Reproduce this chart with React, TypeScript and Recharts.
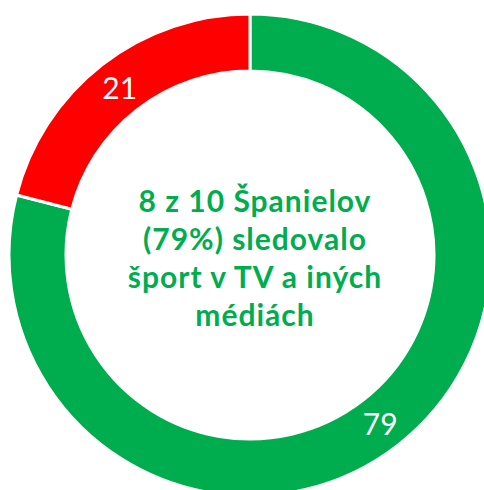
import { Cell, Pie, PieChart } from "recharts";

const categories = ["Sledovali šport", "Nesledovali"];
const values = [79, 21];
const colors = ["#00AD4E", "#FF0000"];
const centerLines = ["8 z 10 Španielov", "(79%) sledovalo", "šport v TV a iných", "médiách"];

const data = categories.map((name, i) => ({ name, value: values[i] }));

const RADIAN = Math.PI / 180;

function SliceLabel(props: any) {
  const { cx, cy, midAngle, innerRadius, outerRadius, value } = props;
  const r = (innerRadius + outerRadius) / 2;
  const x = cx + r * Math.cos(-midAngle * RADIAN);
  const y = cy + r * Math.sin(-midAngle * RADIAN);
  return (
    <text
      x={x}
      y={y}
      fill="#fff"
      textAnchor="middle"
      dominantBaseline="central"
      fontFamily="Lato"
      fontSize={30}
    >
      {value}
    </text>
  );
}

export default function App() {
  return (
    <div style={{ position: "absolute", left: 0, top: 0, width: 484, height: 490, background: "#fff" }}>
      <PieChart width={484} height={490} margin={{ top: 0, right: 0, bottom: 0, left: 0 }}>
        <Pie
          data={data}
          dataKey="value"
          nameKey="name"
          cx={250}
          cy={255}
          innerRadius={184}
          outerRadius={241}
          startAngle={90}
          endAngle={-270}
          stroke="#fff"
          strokeWidth={3}
          label={SliceLabel}
          labelLine={false}
          isAnimationActive={false}
        >
          {data.map((d, i) => (
            <Cell key={d.name} fill={colors[i]} />
          ))}
        </Pie>
        <text
          textAnchor="middle"
          fontFamily="Lato"
          fontWeight="bold"
          fontSize={30}
          letterSpacing={1}
          fill="#00AD4E"
        >
          {centerLines.map((line, i) => (
            <tspan key={line} x={255} y={212 + i * 38}>
              {line}
            </tspan>
          ))}
        </text>
      </PieChart>
    </div>
  );
}
